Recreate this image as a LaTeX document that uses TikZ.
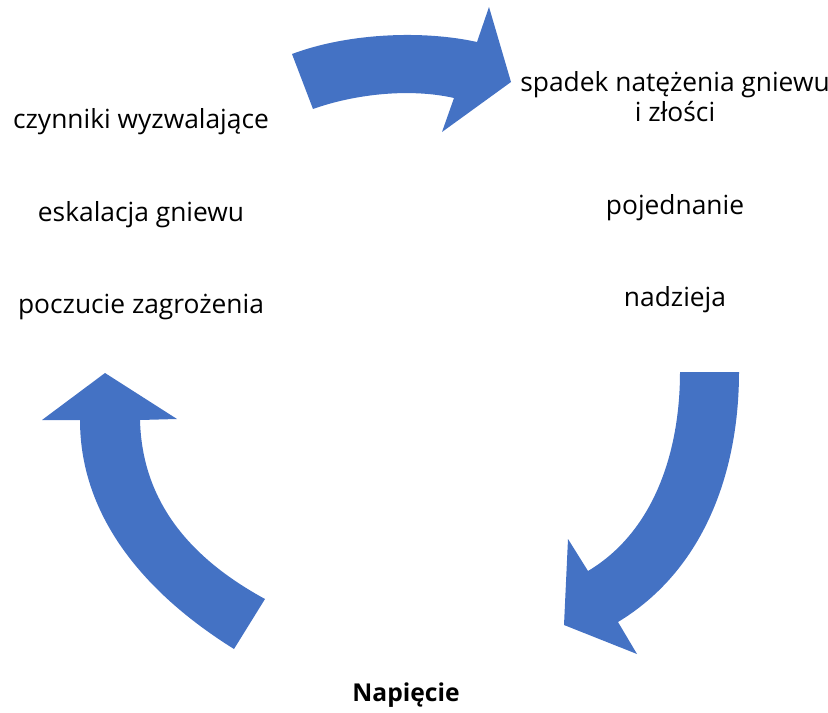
\documentclass[tikz,border=0pt]{standalone}
\usepackage{fontspec}
\setmainfont{Open Sans}
\usepackage{tikz}

\definecolor{cycleblue}{HTML}{4472C4}

\begin{document}
\begin{tikzpicture}[x=0.02cm,y=-0.02cm,
		stage/.style={font=\fontsize{15}{17}\selectfont,align=center,inner sep=1pt},
		cyclearrow/.style={fill=cycleblue,draw=none}]
				\useasboundingbox (0,0) rectangle (828,713);
				% arrows
				\fill[cyclearrow] (292,54) .. controls (348,33) and (423,30) .. (477,42) -- (489,7) -- (511,82)
					-- (442,132) -- (454,98) .. controls (410,88) and (355,94) .. (313,109) -- cycle;
				\fill[cyclearrow] (739,372) .. controls (739,472) and (704,570) .. (618,622) -- (637,654) -- (564,625)
					-- (568,539) -- (588,571) .. controls (655,531) and (680,450) .. (680,372) -- cycle;
				\fill[cyclearrow] (234,649) .. controls (149,596) and (80,520) .. (80,420) -- (42,420) -- (105,373)
					-- (177,419) -- (140,420) .. controls (142,500) and (188,557) .. (265,599) -- cycle;
				% texts
				\node[stage] (trig) at (141,122) {czynniki wyzwalające};
				\node[stage] (escal) at (141,215) {eskalacja gniewu};
				\node[stage] (threat) at (141,307) {poczucie zagrożenia};
				\node[stage] (drop) at (675,97) {spadek natężenia gniewu\\i złości};
				\node[stage] (recon) at (675,208) {pojednanie};
				\node[stage] (hope) at (675,300) {nadzieja};
				\node[stage,font=\fontsize{14}{17}\selectfont\bfseries] (tens) at (406,695) {Napięcie};
			\end{tikzpicture}
\end{document}
